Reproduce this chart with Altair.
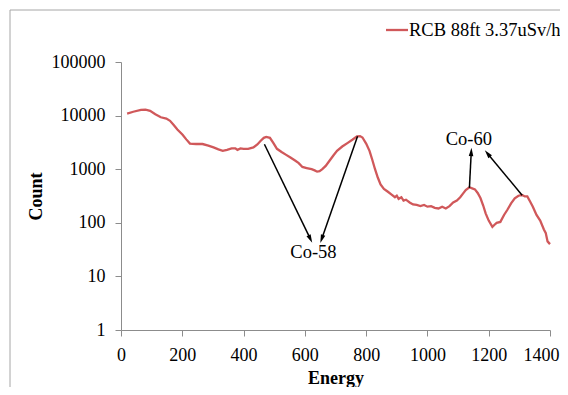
import math
import altair as alt
import pandas as pd

FONT = "Times New Roman, Liberation Serif, serif"

pairs = [(20,10900),(40,11800),(65,12800),(80,12900),(95,12300),(112,10600),(130,9300),(148,8800),
(160,8000),(172,6700),(184,5500),(201,4400),(213,3600),(225,3000),(245,2950),(266,2950),(285,2750),
(302,2550),(318,2350),(332,2200),(346,2300),(361,2450),(373,2450),(380,2300),(390,2450),(400,2400),
(415,2400),(432,2550),(445,2900),(456,3400),(466,3850),(474,4000),(486,3850),(497,3100),(509,2400),
(524,2100),(539,1850),(553,1650),(568,1450),(580,1300),(592,1100),(606,1050),(622,1000),(632,950),
(640,900),(648,920),(657,1000),(668,1150),(681,1450),(693,1800),(705,2200),(722,2650),(740,3100),
(755,3550),(770,4100),(780,4150),(788,3900),(800,3000),(811,2200),(820,1500),(829,1000),(838,700),
(847,520),(858,430),(871,380),(882,340),(894,300),(900,320),(906,280),(915,300),(922,260),(930,270),
(942,240),(953,220),(965,215),(977,205),(989,215),(1000,200),(1012,205),(1024,190),(1036,185),
(1048,200),(1060,185),(1072,205),(1084,240),(1096,260),(1107,300),(1116,350),(1125,410),(1137,460),
(1146,440),(1155,420),(1164,360),(1173,290),(1182,210),(1190,150),(1200,110),(1212,84),(1219,92),
(1226,100),(1238,104),(1250,140),(1261,175),(1273,230),(1285,285),(1297,320),(1309,330),(1318,310),
(1326,310),(1335,250),(1344,200),(1356,140),(1368,110),(1380,75),(1386,65),(1392,45),(1400,40)]
energy = [p[0] for p in pairs]
count = [p[1] for p in pairs]

x_ticks = [0, 200, 400, 600, 800, 1000, 1200, 1400]
y_ticks = [1, 10, 100, 1000, 10000, 100000]

# annotation arrows (data coordinates): start -> tip
arrow_x1 = [468, 772, 1137, 1309]
arrow_y1 = [2920, 4120, 449, 328]
arrow_x2 = [618, 655, 1143, 1196]
arrow_y2 = [50, 50, 2100, 1960]
label_text = ["Co-58", "Co-60"]
label_x = [628, 1135]
label_y = [28.8, 3620]
series_name = "RCB 88ft 3.37uSv/h"

W, H = 429, 268
PX_PER_E = W / 1400.0
PX_PER_DEC = H / 5.0

df = pd.DataFrame({"Energy": energy, "Count": count})
angles = []
for a, b, c, d in zip(arrow_x1, arrow_y1, arrow_x2, arrow_y2):
    dx = (c - a) * PX_PER_E
    dy = -(math.log10(d) - math.log10(b)) * PX_PER_DEC
    angles.append((math.degrees(math.atan2(dx, -dy)) + 360) % 360)
arr = pd.DataFrame({"x1": arrow_x1, "y1": arrow_y1, "x2": arrow_x2, "y2": arrow_y2, "ang": angles})
lab = pd.DataFrame({"t": label_text, "x": label_x, "y": label_y})

xs = alt.Scale(domain=[0, 1400], nice=False)
ys = alt.Scale(type="log", domain=[1, 100000], nice=False)
xa = alt.Axis(values=x_ticks, title="Energy", format="d", titleY=48, titleBaseline="middle",
              labelFlush=False, labelOffset=alt.expr("datum.value == 1400 ? -9 : 0"))
ya = alt.Axis(values=y_ticks, title="Count", format="d", titleX=-85, titleBaseline="middle",
              labelFlush=False)
RED = "#D0585A"

line = alt.Chart(df).mark_line(color=RED, strokeWidth=2.3).encode(
    x=alt.X("Energy:Q", scale=xs, axis=xa),
    y=alt.Y("Count:Q", scale=ys, axis=ya),
)

rules = alt.Chart(arr).mark_rule(color="black", strokeWidth=1.5).encode(
    x=alt.X("x1:Q", scale=xs, axis=xa), y=alt.Y("y1:Q", scale=ys, axis=ya),
    x2="x2:Q", y2="y2:Q",
)
heads = alt.Chart(arr).mark_point(shape="M0,-1L0.55,1L-0.55,1Z", filled=True, color="black",
                                  opacity=1, size=70).encode(
    x=alt.X("x2:Q", scale=xs, axis=xa), y=alt.Y("y2:Q", scale=ys, axis=ya),
    angle=alt.Angle("ang:Q", scale=None),
)
labels = alt.Chart(lab).mark_text(font=FONT, fontSize=18.5, color="black", baseline="middle").encode(
    x=alt.X("x:Q", scale=xs, axis=xa), y=alt.Y("y:Q", scale=ys, axis=ya), text="t:N",
)

leg_line = alt.Chart(pd.DataFrame({"a": [0]})).mark_rule(color=RED, strokeWidth=2.3).encode(
    x=alt.value(265), x2=alt.value(287), y=alt.value(-32))
leg_text = alt.Chart(pd.DataFrame({"t": [series_name]})).mark_text(
    font=FONT, fontSize=18.5, color="black", align="left", baseline="middle").encode(
    x=alt.value(288), y=alt.value(-32), text="t:N")

border_top = alt.Chart(pd.DataFrame({"a": [0]})).mark_rule(color="#a6a6a6", strokeWidth=1).encode(
    x=alt.value(-111), x2=alt.value(460), y=alt.value(-52))
border_left = alt.Chart(pd.DataFrame({"a": [0]})).mark_rule(color="#a6a6a6", strokeWidth=1).encode(
    x=alt.value(-111), y=alt.value(-52), y2=alt.value(340))

chart = alt.layer(border_top, border_left, line, rules, heads, labels, leg_line, leg_text).properties(
    width=W, height=H,
    autosize=alt.AutoSizeParams(type="none"),
    padding={"left": 113, "top": 54, "right": 10, "bottom": 57},
    background="white",
).configure_view(stroke=None).configure_axis(
    grid=False,
    labelFont=FONT, labelFontSize=18, labelColor="black",
    titleFont=FONT, titleFontSize=18, titleFontWeight="bold", titleColor="black",
    domainColor="#8c8c8c", tickColor="#8c8c8c", tickSize=6, labelPadding=10,
)

chart.save("out.html", embed_options={"renderer": "svg", "actions": False})
